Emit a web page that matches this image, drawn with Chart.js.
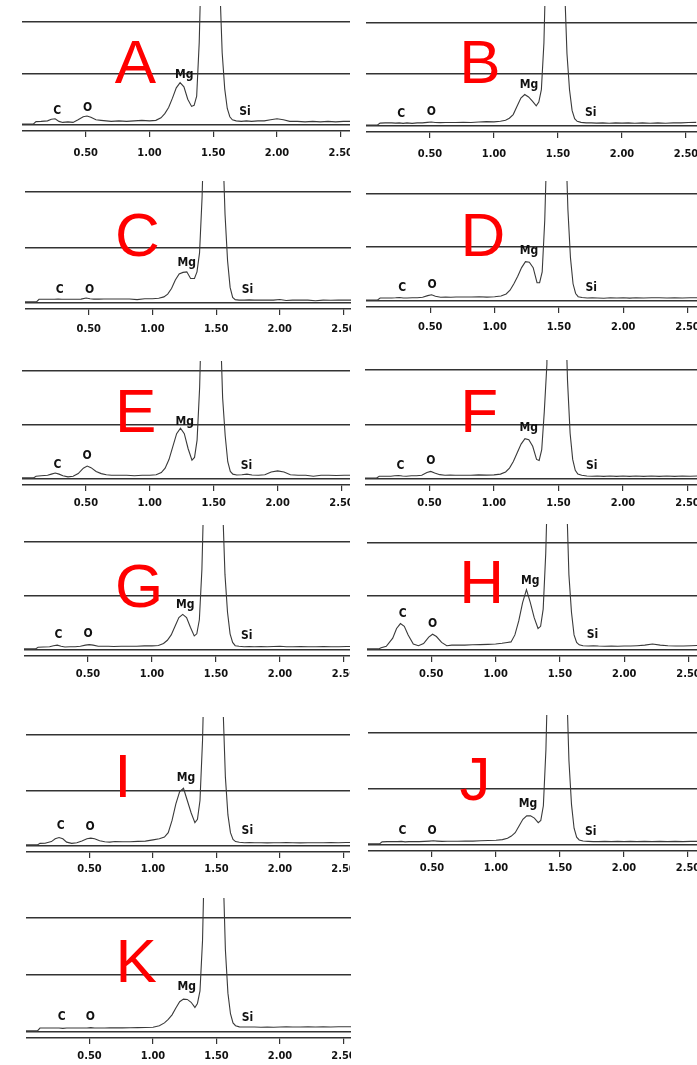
<!DOCTYPE html>
<html>
<head>
<meta charset="utf-8">
<script src="https://cdn.jsdelivr.net/npm/chart.js@4.4.1/dist/chart.umd.min.js"></script>
<style>
  body { margin: 0; background: #fff; width: 697px; height: 1065px; position: relative; overflow: hidden; }
  canvas { position: absolute; }
</style>
</head>
<body>
<script>
// energy axis (keV), shared by every spectrum
const energy = [
  0.00, 0.09, 0.11, 0.15, 0.20, 0.23, 0.26, 0.29, 0.32, 0.36,
  0.40, 0.44, 0.48, 0.51, 0.54, 0.58, 0.62, 0.66, 0.70, 0.76,
  0.82, 0.88, 0.94, 1.00, 1.05, 1.09, 1.12, 1.15, 1.18, 1.21,
  1.24, 1.27, 1.30, 1.33, 1.35, 1.37, 1.39, 1.41, 1.44, 1.48,
  1.52, 1.55, 1.57, 1.59, 1.61, 1.63, 1.65, 1.68, 1.72, 1.76,
  1.80, 1.85, 1.90, 1.95, 2.00, 2.05, 2.10, 2.16, 2.22, 2.28,
  2.34, 2.40, 2.46, 2.52, 2.58
];
const tickValues = [0.5, 1.0, 1.5, 2.0, 2.5];
const gridValues = [0, 50, 100];
const elementNames = ['C', 'O', 'Mg', 'Si'];
const panelNames = ['A', 'B', 'C', 'D', 'E', 'F', 'G', 'H', 'I', 'J', 'K'];

// counts (grid lines sit at 50 and 100)
const countsA = [1, 1, 3.3, 3.5, 4, 5.5, 6, 3.5, 2.5, 3,
  2.5, 5, 8, 8.7, 7.5, 5, 4.5, 4, 3.5, 4,
  3.5, 4, 4.5, 4, 4.5, 7, 11, 17, 26, 36,
  41, 37, 25, 18, 19, 28, 80, 180, 600, 950,
  600, 140, 70, 35, 16, 8, 5, 4, 3.5, 4,
  3.5, 4, 4, 5, 6, 5, 3.5, 3.5, 3, 3.5,
  3, 3.5, 3, 3.5, 3.5];
const countsB = [1, 1, 2.8, 3, 3, 2.8, 3, 2.5, 3, 2.5,
  3, 3, 3.5, 3.8, 3.3, 3.2, 3.3, 3.3, 3.3, 3.5,
  3.3, 3.8, 4.2, 4, 4.5, 5.5, 7.5, 11, 19, 27,
  30.4, 28, 24, 19.5, 23, 35, 80, 180, 600, 950,
  600, 140, 70, 35, 15, 7, 4.5, 3.5, 3, 3,
  2.8, 3, 2.6, 3, 2.8, 3, 2.6, 3, 2.7, 3,
  2.7, 3, 3, 3.3, 3.5];
const countsC = [1, 1, 3.3, 3.3, 3.3, 3.3, 3.5, 3.3, 3.3, 3.3,
  3.3, 3.5, 4.5, 3.8, 3.5, 3.5, 3.6, 3.6, 3.6, 3.6,
  3.6, 3, 3.8, 3.8, 4.2, 5.5, 8, 13, 20.6, 26,
  27.5, 28, 22, 22, 28, 45, 95, 180, 600, 950,
  600, 150, 80, 38, 14, 5, 3, 2.6, 2.6, 2.8,
  2.6, 2.6, 2.6, 2.6, 3.2, 2.2, 2.6, 2.6, 2.6, 2,
  2.6, 2.4, 2.6, 2.6, 2.6];
const countsD = [1, 1, 2.8, 2.8, 2.8, 3, 3.3, 2.8, 2.8, 3,
  3, 3.5, 5, 5.8, 4.5, 3.5, 3.6, 3.5, 3.7, 3.7,
  3.7, 3.9, 3.6, 4, 4.6, 6.5, 10, 16, 23, 31,
  36.5, 36, 31, 17, 17, 27, 75, 160, 600, 950,
  600, 160, 85, 40, 16, 7, 4, 3.2, 2.8, 3,
  2.8, 2.6, 3, 2.8, 3, 2.7, 3, 2.8, 3, 3,
  2.8, 3, 2.8, 3, 3];
const countsE = [1, 1, 2.5, 3, 3.5, 4.5, 5.5, 4.5, 3, 2,
  2.5, 5, 10, 12, 10.5, 7, 5, 4, 3.5, 3.5,
  3.5, 3, 3.5, 3.5, 4, 6, 10, 18, 30, 42,
  47, 42, 28, 17.5, 20, 36, 85, 180, 600, 950,
  600, 150, 75, 40, 16, 7, 4.5, 3.7, 4, 4.5,
  3.7, 3.5, 4, 6.5, 7.5, 6.5, 4, 3.5, 3.5, 2.5,
  3.5, 3.5, 3.2, 3.5, 3.5];
const countsF = [1, 1, 2.5, 2.5, 2.5, 3, 3.2, 2.8, 2.6, 3,
  3, 3.5, 6, 7, 5.5, 4, 3.4, 3.6, 3.4, 3.5,
  3.5, 3.8, 3.6, 3.8, 4.5, 6.5, 10, 16, 24, 32,
  37, 36, 30, 18, 17, 27, 62, 105, 600, 950,
  600, 170, 90, 42, 18, 8, 4.5, 3.5, 2.8, 2.5,
  2.8, 2.4, 2.8, 2.4, 2.8, 2.4, 2.8, 2.4, 2.8, 2.4,
  2.8, 2.4, 2.8, 2.5, 2.8];
const countsG = [1, 1, 2.5, 2.8, 3, 4, 4.5, 3.5, 2.8, 3,
  3, 3.5, 4.5, 5, 4.5, 3.5, 3.5, 3.5, 3.2, 3.5,
  3.5, 3.5, 3.8, 3.8, 4.2, 6, 9, 14, 22, 30,
  33, 30, 21, 13, 15, 28, 75, 170, 600, 950,
  600, 140, 70, 35, 15, 7, 4, 3.5, 3, 3.2,
  3, 3.2, 3, 3.2, 3.5, 3, 3, 3.2, 3, 3,
  3.2, 3, 3, 3.2, 3.2];
const countsH = [1, 1, 2.1, 3.5, 11, 20, 24.5, 22, 14, 5.5,
  4, 6, 12, 14.6, 12.5, 7, 4, 4.5, 4.5, 4.5,
  4.8, 5, 5.2, 5.5, 6.2, 7, 7.5, 14, 27, 44,
  56, 44, 30, 20, 22, 38, 90, 180, 600, 950,
  600, 150, 70, 35, 14, 7, 4.8, 4, 3.7, 4,
  3.7, 3.5, 3.7, 3.5, 3.7, 3.7, 4, 4.5, 5.5, 4.5,
  4, 3.7, 3.7, 4, 4.2];
const countsI = [1, 1, 2.4, 2.5, 4, 6.5, 7.6, 6.5, 3.5, 2.4,
  3, 4.5, 6.5, 7.1, 6.5, 4.7, 3.8, 3.5, 4, 3.8,
  3.8, 4.2, 4.4, 5.5, 6.5, 8, 12, 23, 38, 49,
  52, 41, 30, 21, 24, 41, 95, 190, 600, 950,
  600, 130, 62, 28, 12, 6, 4, 3.4, 3, 3.2,
  3, 3, 2.8, 3, 3, 3.2, 3, 2.8, 3, 3,
  3, 3.2, 3, 3.2, 3.2];
const countsJ = [1, 1, 2.8, 3, 3, 3, 3.2, 2.8, 3, 3,
  3, 3.2, 3.5, 3.8, 3.5, 3.2, 3.3, 3.3, 3.3, 3.5,
  3.5, 3.8, 4, 4.2, 4.8, 6, 8, 11, 17, 23,
  26, 26, 24, 20, 22, 35, 85, 180, 600, 950,
  600, 150, 75, 36, 15, 7, 4.5, 3.5, 3.2, 3,
  3, 3.2, 3, 3.2, 3, 3.2, 3, 3.2, 3, 3.2,
  3, 3.2, 3, 3.2, 3.2];
const countsK = [1, 1, 3.5, 3.5, 3.5, 3.5, 3.5, 3.2, 3.5, 3.5,
  3.5, 3.5, 3.5, 3.8, 3.5, 3.5, 3.5, 3.6, 3.6, 3.6,
  3.7, 3.8, 4, 4.2, 5.5, 8, 11, 15, 21, 26.5,
  28.8, 28.5, 26, 21.5, 25, 36, 80, 180, 600, 950,
  600, 150, 72, 34, 16, 8, 5.5, 4.5, 4.4, 4.4,
  4.4, 4.2, 4.4, 4.2, 4.4, 4.6, 4.4, 4.4, 4.6, 4.4,
  4.6, 4.4, 4.6, 4.6, 4.6];

// element label anchors [keV, counts] in the order of elementNames
const labelsA = [[0.277, 13.6], [0.515, 16.9], [1.273, 48.2], [1.749, 12.6]];
const labelsB = [[0.276, 12], [0.51, 13.5], [1.273, 39.4], [1.755, 12.6]];
const labelsC = [[0.272, 12.2], [0.507, 12.2], [1.27, 36.2], [1.747, 11.6]];
const labelsD = [[0.281, 12], [0.513, 15], [1.268, 46.6], [1.752, 12.6]];
const labelsE = [[0.277, 13], [0.509, 21.6], [1.273, 52.8], [1.756, 12]];
const labelsF = [[0.275, 12.2], [0.51, 16.2], [1.27, 46.7], [1.758, 12.2]];
const labelsG = [[0.27, 14], [0.50, 15], [1.26, 42], [1.74, 13]];
const labelsH = [[0.277, 33.8], [0.51, 23.9], [1.27, 64.2], [1.754, 14]];
const labelsI = [[0.273, 18], [0.504, 17.3], [1.26, 61.7], [1.743, 13.7]];
const labelsJ = [[0.27, 13], [0.50, 13], [1.25, 37], [1.74, 12]];
const labelsK = [[0.282, 13], [0.506, 13], [1.265, 39.3], [1.744, 12.2]];

const countsByPanel = { A: countsA, B: countsB, C: countsC, D: countsD, E: countsE, F: countsF,
  G: countsG, H: countsH, I: countsI, J: countsJ, K: countsK };
const labelsByPanel = { A: labelsA, B: labelsB, C: labelsC, D: labelsD, E: labelsE, F: labelsF,
  G: labelsG, H: labelsH, I: labelsI, J: labelsJ, K: labelsK };

// page layout of each panel (pixels)
const layout = {
  A: { x0: 22, kev: 127.5, right: 350, top: 6, gridTop: 21.7, gridMid: 73.3, pad: 10, lx: 135.5, ly: 83.3 },
  B: { x0: 366, kev: 128, right: 697, top: 6, gridTop: 22.3, gridMid: 74, pad: 10, lx: 480, ly: 83.3 },
  C: { x0: 25, kev: 127.4, right: 351, top: 181, gridTop: 191.7, gridMid: 247.3, pad: 8, lx: 137.3, ly: 256 },
  D: { x0: 366, kev: 128.6, right: 697, top: 181, gridTop: 193.3, gridMid: 247.3, pad: 8, lx: 483, ly: 255.7 },
  E: { x0: 22, kev: 127.8, right: 350, top: 361, gridTop: 371, gridMid: 425, pad: 6, lx: 135.8, ly: 431.7 },
  F: { x0: 365, kev: 129, right: 697, top: 360, gridTop: 370, gridMid: 424.7, pad: 6, lx: 479.3, ly: 431.7 },
  G: { x0: 24, kev: 128, right: 350, top: 525, gridTop: 542, gridMid: 596, pad: 6, lx: 139, ly: 607 },
  H: { x0: 367, kev: 128.6, right: 697, top: 524, gridTop: 542.3, gridMid: 596, pad: 6, lx: 481.7, ly: 602.7 },
  I: { x0: 26, kev: 127, right: 350, top: 717, gridTop: 735, gridMid: 790.7, pad: 5, lx: 122.8, ly: 797.3 },
  J: { x0: 368, kev: 128, right: 697, top: 715, gridTop: 733, gridMid: 789, pad: 5, lx: 475, ly: 800 },
  K: { x0: 26, kev: 127, right: 351, top: 898, gridTop: 917.7, gridMid: 975, pad: 6, lx: 136.3, ly: 981.7 }
};

const narrowFont = '"Liberation Sans Narrow", "DejaVu Sans Condensed", sans-serif';

const annotate = {
  id: 'annotate',
  afterDatasetsDraw(chart, args, opts) {
    const { ctx } = chart;
    const x = chart.scales.x, y = chart.scales.y;
    ctx.save();
    ctx.fillStyle = '#111';
    ctx.font = 'bold 12px ' + narrowFont;
    ctx.textAlign = 'center';
    ctx.textBaseline = 'middle';
    opts.labels.forEach((p, i) => {
      ctx.fillText(elementNames[i], x.getPixelForValue(p[0]), y.getPixelForValue(p[1]));
    });
    ctx.font = '62px "Liberation Sans", Arial, sans-serif';
    ctx.fillStyle = '#ff0000';
    ctx.textBaseline = 'alphabetic';
    ctx.fillText(opts.letter, opts.letterX, opts.letterY);
    ctx.restore();
  }
};

panelNames.forEach((name) => {
  const L = layout[name];
  const perUnit = (L.gridMid - L.gridTop) / 50;
  const axisY = 2 * L.gridMid - L.gridTop;
  const bottom = axisY + 6;
  const left = Math.round(L.x0);
  const top = Math.round(L.top);
  const width = Math.round(L.right - left);
  const height = Math.round(bottom - top) + 34;

  const canvas = document.createElement('canvas');
  canvas.width = width;
  canvas.height = height;
  canvas.style.left = left + 'px';
  canvas.style.top = top + 'px';
  document.body.appendChild(canvas);

  const points = energy.map((e, i) => ({ x: e, y: countsByPanel[name][i] }));

  new Chart(canvas.getContext('2d'), {
    type: 'line',
    data: {
      datasets: [{
        data: points,
        borderColor: '#3a3a3a',
        borderWidth: 1.1,
        pointRadius: 0,
        tension: 0,
        fill: false
      }]
    },
    options: {
      responsive: false,
      animation: false,
      devicePixelRatio: 1,
      layout: { padding: 0 },
      plugins: {
        legend: { display: false },
        tooltip: { enabled: false },
        annotate: {
          labels: labelsByPanel[name],
          letter: name,
          letterX: L.lx - left,
          letterY: L.ly - top
        }
      },
      scales: {
        x: {
          type: 'linear',
          min: 0,
          max: width / L.kev,
          border: { display: true, color: '#333', width: 1.5 },
          grid: { drawOnChartArea: false, drawTicks: true, tickLength: 6, color: '#333', lineWidth: 1.2 },
          ticks: {
            color: '#111',
            padding: L.pad,
            maxRotation: 0,
            autoSkip: false,
            font: { family: narrowFont, size: 11, weight: 'bold' },
            callback: (v) => Number(v).toFixed(2)
          },
          afterBuildTicks: (s) => { s.ticks = tickValues.map((v) => ({ value: v })); },
          afterFit: (s) => { s.height = 34; s.paddingLeft = 0; s.paddingRight = 0; }
        },
        y: {
          type: 'linear',
          min: -(bottom - axisY) / perUnit,
          max: (axisY - top) / perUnit,
          border: { display: false },
          ticks: { display: false },
          grid: { color: '#333', lineWidth: 1.5, drawTicks: false },
          afterBuildTicks: (s) => { s.ticks = gridValues.map((v) => ({ value: v })); },
          afterFit: (s) => { s.width = 0; }
        }
      }
    },
    plugins: [annotate]
  });
});
</script>
</body>
</html>
